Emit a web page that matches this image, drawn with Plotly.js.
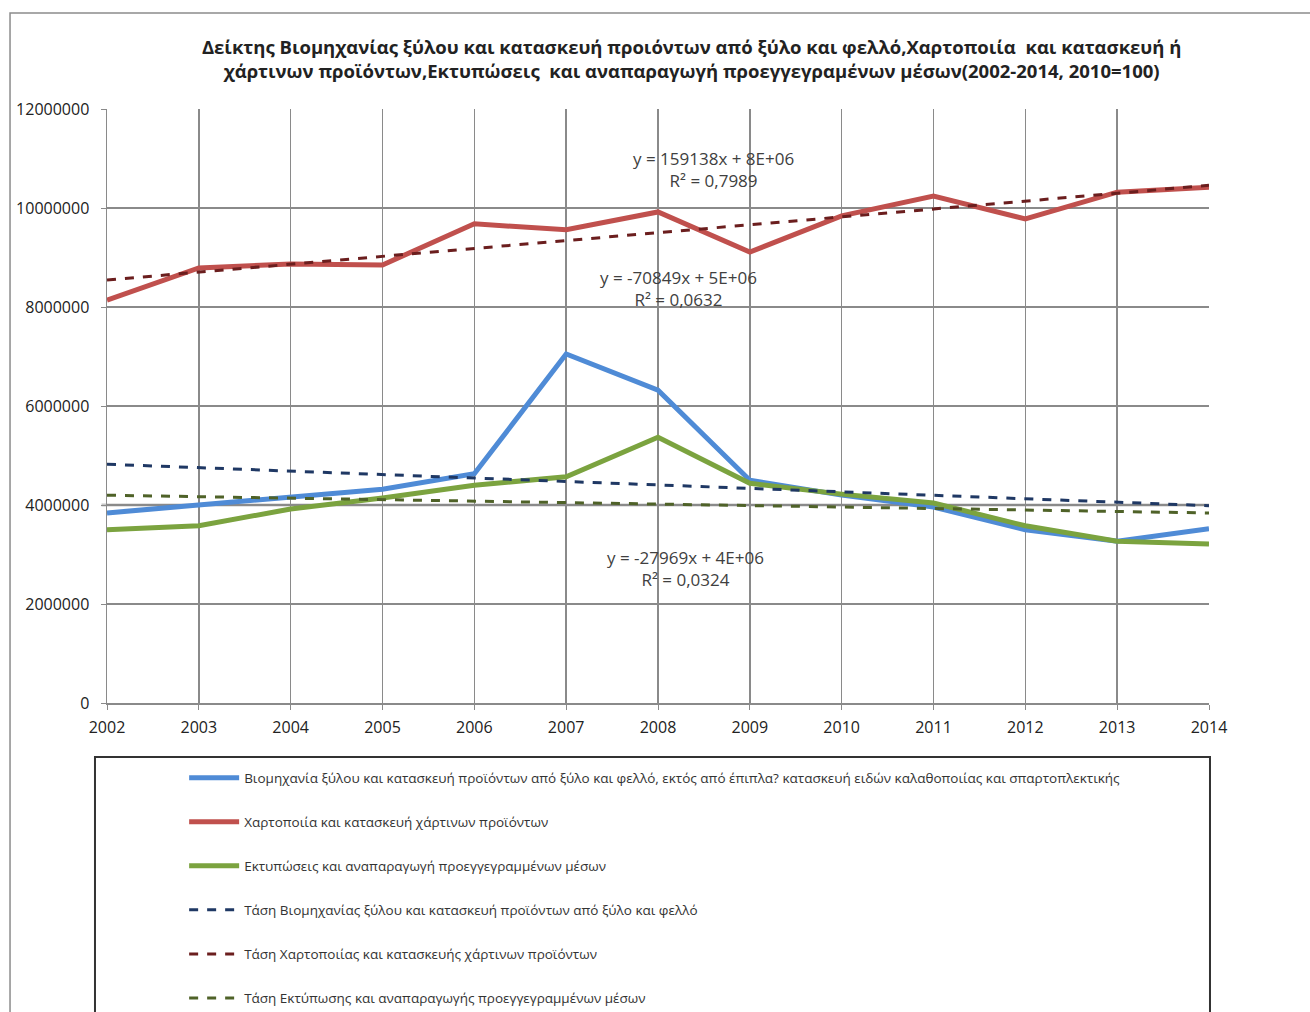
<!DOCTYPE html>
<html>
<head>
<meta charset="utf-8">
<script src="https://cdn.plot.ly/plotly-3.0.1.min.js"></script>
<style>html,body{margin:0;padding:0;background:#fff;}#chart{width:1310px;height:1012px;}</style>
</head>
<body>
<div id="chart"></div>
<script>
const years = [2002,2003,2004,2005,2006,2007,2008,2009,2010,2011,2012,2013,2014];
const woodIndex = [3840000,4000000,4160000,4320000,4630000,7050000,6320000,4500000,4200000,3960000,3500000,3270000,3520000];
const paperIndex = [8140000,8790000,8870000,8850000,9680000,9560000,9920000,9110000,9840000,10240000,9780000,10320000,10420000];
const printIndex = [3500000,3580000,3920000,4140000,4400000,4570000,5370000,4440000,4220000,4040000,3580000,3270000,3210000];

const seriesNames = [
  'Βιομηχανία ξύλου και κατασκευή προϊόντων από ξύλο και φελλό, εκτός από έπιπλα? κατασκευή ειδών καλαθοποιίας και σπαρτοπλεκτικής',
  'Χαρτοποιία και κατασκευή χάρτινων προϊόντων',
  'Εκτυπώσεις και αναπαραγωγή προεγγεγραμμένων μέσων'
];
const trendNames = [
  'Τάση Βιομηχανίας ξύλου και κατασκευή προϊόντων από ξύλο και φελλό',
  'Τάση Χαρτοποιίας και κατασκευής χάρτινων προϊόντων',
  'Τάση Εκτύπωσης και αναπαραγωγής προεγγεγραμμένων μέσων'
];
const trendLabels = [
  'y = -70849x + 5E+06<br>R² = 0,0632',
  'y = 159138x + 8E+06<br>R² = 0,7989',
  'y = -27969x + 4E+06<br>R² = 0,0324'
];
const titleText = 'Δείκτης Βιομηχανίας ξύλου και κατασκευή προιόντων από ξύλο και φελλό,Χαρτοποιία  και κατασκευή ή<br>χάρτινων προϊόντων,Εκτυπώσεις  και αναπαραγωγή προεγγεγραμένων μέσων(2002-2014, 2010=100)';

// least-squares linear trend (Excel trendline), x = 1..n
function linearTrend(ys){
  const n = ys.length;
  const xs = ys.map((_,i)=>i+1);
  const mx = xs.reduce((a,b)=>a+b,0)/n;
  const my = ys.reduce((a,b)=>a+b,0)/n;
  let sxy=0,sxx=0;
  for(let i=0;i<n;i++){sxy+=(xs[i]-mx)*(ys[i]-my);sxx+=(xs[i]-mx)**2;}
  const b = sxy/sxx, a = my - b*mx;
  return xs.map(x=>a+b*x);
}

const colors = ['#4F8BD6','#C0504D','#7BA33F'];
const trendColors = ['#1F3864','#6B1E1E','#4F6228'];
const data = [woodIndex, paperIndex, printIndex];

const traces = [];
data.forEach((ys,i)=>{
  traces.push({x:years,y:ys,type:'scatter',mode:'lines',name:seriesNames[i],
    line:{color:colors[i],width:5},legendgroup:'g'+i});
});
data.forEach((ys,i)=>{
  traces.push({x:years,y:linearTrend(ys),type:'scatter',mode:'lines',name:trendNames[i],
    line:{color:trendColors[i],width:3,dash:'dash'},legendgroup:'t'+i});
});

const FONT = '"Open Sans", "Noto Sans", sans-serif';
const NARROW = '"Open Sans", sans-serif';

const layout = {
  width:1310,height:1012,
  margin:{l:107,r:101,t:109,b:309,autoexpand:false},
  paper_bgcolor:'#fff',plot_bgcolor:'#fff',
  title:{text:titleText,x:0.528,xanchor:'center',y:0.947,yanchor:'top',
    font:{family:'"Open Sans", sans-serif',size:18.5,color:'#222',weight:'bold'}},
  showlegend:true,
  legend:{x:0.07,xanchor:'left',y:-0.1,yanchor:'top',orientation:'v',
    traceorder:'grouped',tracegroupgap:23.5,font:{family:NARROW,size:13.5,color:'#333'},
    bgcolor:'rgba(0,0,0,0)',borderwidth:0,itemwidth:50},
  xaxis:{range:[2002,2014],dtick:1,tick0:2002,showgrid:true,gridcolor:'#8a8a8a',gridwidth:1.5,
    zeroline:false,showline:true,linecolor:'#8a8a8a',linewidth:1.5,ticks:'outside',ticklen:5,tickcolor:'#8a8a8a',
    ticklabelstandoff:4,
    tickfont:{family:'"Open Sans", sans-serif',size:16,color:'#222'},fixedrange:true},
  yaxis:{range:[0,12000000],dtick:2000000,tickformat:'d',showgrid:true,gridcolor:'#8a8a8a',gridwidth:1.5,
    zeroline:false,showline:true,linecolor:'#8a8a8a',linewidth:1.5,ticks:'outside',ticklen:5,tickcolor:'#8a8a8a',
    ticklabelstandoff:8,
    tickfont:{family:'"Open Sans", sans-serif',size:16,color:'#222'},fixedrange:true},
  shapes:[
    {type:'rect',xref:'paper',yref:'paper',x0:-0.088,x1:1.12,y0:-0.6,y1:1.1616,line:{color:'#8c8c8c',width:1.5},layer:'below'},
    {type:'rect',xref:'paper',yref:'paper',x0:-0.0109,x1:1.0009,y0:-0.6,y1:-0.0909,line:{color:'#333',width:2},layer:'below'},
    {type:'line',xref:'paper',yref:'y',x0:-0.005,x1:1,y0:4000000,y1:4000000,line:{color:'#c8c8c8',width:3},layer:'below'}
  ],
  annotations:[
    {x:2008.22,y:8380000,xref:'x',yref:'y',text:trendLabels[0],showarrow:false,font:{family:FONT,size:17,color:'#404040'}},
    {x:2008.6,y:10770000,xref:'x',yref:'y',text:trendLabels[1],showarrow:false,font:{family:FONT,size:17,color:'#404040'}},
    {x:2008.3,y:2710000,xref:'x',yref:'y',text:trendLabels[2],showarrow:false,font:{family:FONT,size:17,color:'#404040'}}
  ]
};
Plotly.newPlot('chart',traces,layout,{displayModeBar:false,staticPlot:true});
</script>
</body>
</html>
